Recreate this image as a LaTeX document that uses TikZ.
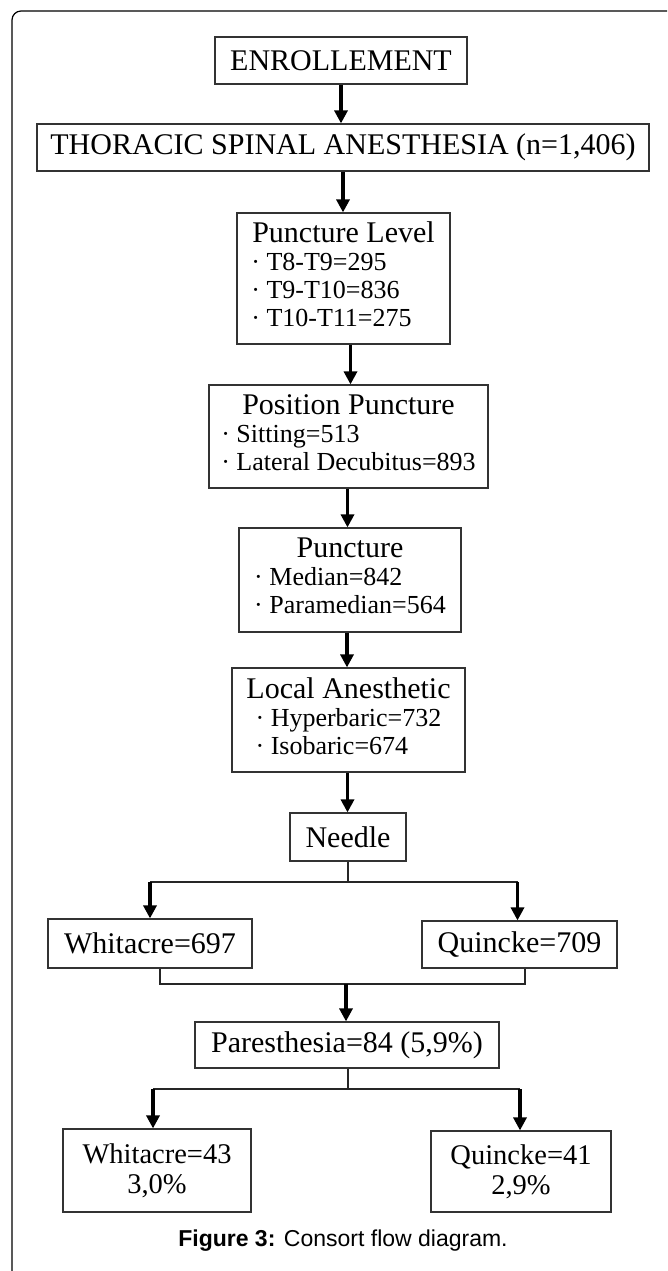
\documentclass[tikz,border=0pt]{standalone}
\usepackage{fontspec}
\setmainfont{Liberation Serif}
\newfontfamily\captionfont{Liberation Sans}
\usetikzlibrary{arrows.meta}

\begin{document}
\begin{tikzpicture}[x=1pt,y=-1pt]

    \tikzset{
      box/.style={
        draw=black!80,
        line width=1.2pt,
        inner sep=0pt,
        font=\fontsize{30}{34}\selectfont,
      },
      listbox/.style={
        box,
        font=\fontsize{26}{28}\selectfont,
      },
      link/.style={
        draw=black!85,
        line width=1.2pt,
      },
      flow/.style={
        line width=3.2pt,
        -{Triangle[width=13pt,length=13pt]},
      },
    }
    \useasboundingbox (0,0) rectangle (667,1271);
    \clip (0,0) rectangle (667,1271);
    % open frame round the figure
    \draw[line width=1.2pt, rounded corners=9pt] (12,1300) |- (700,11);

    % main column
    \node[box, minimum width=252, minimum height=47] (enroll) at (341,60.5) {ENROLLEMENT};
    \node[box, minimum width=612, minimum height=47] (thoracic) at (343,147.5) {THORACIC SPINAL ANESTHESIA (n=1,406)};
    \node[listbox, minimum width=213, minimum height=131] (level) at (343.5,278.5)
      {\begin{tabular}{@{}c@{}}{\fontsize{30}{28}\selectfont Puncture Level}\\
       \hspace*{-24pt}\begin{tabular}[t]{@{}l@{}}· T8-T9=295\\ · T9-T10=836\\ · T10-T11=275\end{tabular}\end{tabular}};
    \node[listbox, minimum width=279, minimum height=103] (position) at (348.5,436.5)
      {\begin{tabular}{@{}c@{}}{\fontsize{30}{28}\selectfont Position Puncture}\\
       \begin{tabular}[t]{@{}l@{}}· Sitting=513\\ · Lateral Decubitus=893\end{tabular}\end{tabular}};
    \node[listbox, minimum width=222, minimum height=104] (puncture) at (350,580)
      {\begin{tabular}{@{}c@{}}{\fontsize{30}{28}\selectfont Puncture}\\
       \begin{tabular}[t]{@{}l@{}}· Median=842\\ · Paramedian=564\end{tabular}\end{tabular}};
    \node[listbox, minimum width=233, minimum height=104] (local) at (348.5,720)
      {\begin{tabular}{@{}c@{}}{\fontsize{30}{28}\selectfont Local Anesthetic}\\
       \begin{tabular}[t]{@{}l@{}}· Hyperbaric=732\\ · Isobaric=674\end{tabular}\end{tabular}};
    \node[box, minimum width=116, minimum height=48] (needle) at (348,837) {Needle};

    % needle types
    \node[box, minimum width=204, minimum height=49] (whit1) at (150,943.5) {Whitacre=697};
    \node[box, minimum width=195, minimum height=47] (quin1) at (519.5,944.5) {Quincke=709};
    \node[box, minimum width=304, minimum height=46] (par) at (347,1045) {Paresthesia=84 (5,9\%)};
    \node[box, align=center, font=\fontsize{28.5}{30}\selectfont, minimum width=188, minimum height=83] (whit2) at (157,1170.5) {Whitacre=43\\3,0\%};
    \node[box, align=center, font=\fontsize{28.5}{30}\selectfont, minimum width=180, minimum height=81] (quin2) at (521,1171.5) {Quincke=41\\2,9\%};

    \node[font=\captionfont\fontsize{23}{28}\selectfont] (caption) at (343,1241) {\textbf{Figure 3:} Consort flow diagram.};

    % straight arrows down the column
    \draw[flow] (enroll.south) -- (enroll.south |- thoracic.north);
    \draw[flow] (thoracic.south) -- (thoracic.south |- level.north);
    \draw[flow] ([xshift=7pt]level.south) -- ([xshift=7pt]level.south |- position.north);
    \draw[flow] ([xshift=-1pt]position.south) -- ([xshift=-1pt]position.south |- puncture.north);
    \draw[flow] ([xshift=-3pt]puncture.south) -- ([xshift=-3pt]puncture.south |- local.north);
    \draw[flow] ([xshift=-1pt]local.south) -- ([xshift=-1pt]local.south |- needle.north);

    % needle splits in two
    \coordinate (split) at (348,882);
    \draw[link] (needle.south) -- (needle.south |- split);
    \draw[link] (whit1.north |- split) -- ([xshift=-2pt]quin1.north |- split);
    \draw[flow] (whit1.north |- split) -- (whit1.north);
    \draw[flow] ([xshift=-2pt]quin1.north |- split) -- ([xshift=-2pt]quin1.north);

    % both groups join again
    \coordinate (merge) at (346,984);
    \draw[link] ([xshift=10pt]whit1.south) |- (merge) -| ([xshift=5.5pt]quin1.south);
    \draw[flow] (merge) -- (merge |- par.north);

    % paresthesia by needle
    \coordinate (split2) at (348,1089);
    \draw[link] ([xshift=1pt]par.south) -- ([xshift=1pt]par.south |- split2);
    \draw[link] ([xshift=-4pt]whit2.north |- split2) -- ([xshift=-1pt]quin2.north |- split2);
    \draw[flow] ([xshift=-4pt]whit2.north |- split2) -- ([xshift=-4pt]whit2.north);
    \draw[flow] ([xshift=-1pt]quin2.north |- split2) -- ([xshift=-1pt]quin2.north);

\end{tikzpicture}
\end{document}
